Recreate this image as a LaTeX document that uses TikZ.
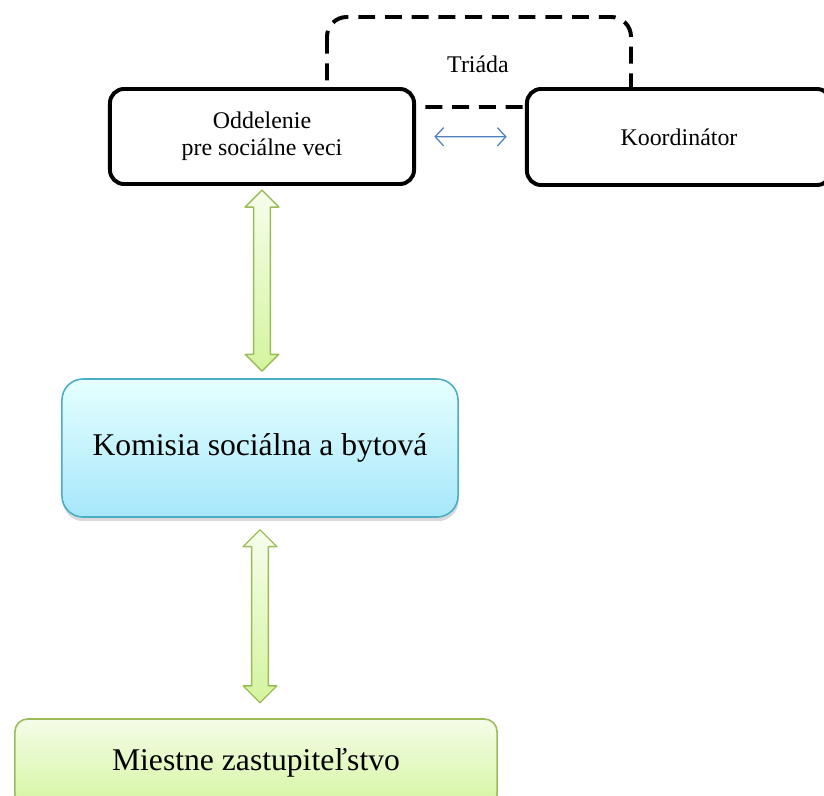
\documentclass[tikz,border=0pt]{standalone}
\usepackage{fontspec}
\setmainfont{Liberation Serif}
\usepackage{tikz}
\usetikzlibrary{arrows.meta,shadows,calc}

\definecolor{modra}{HTML}{4F81BD}
\definecolor{tyrkys}{HTML}{4BACC6}
\definecolor{olivova}{HTML}{9BBB59}

\tikzset{
	ramik/.style={draw=black,line width=2.8pt,rounded corners=10pt,fill=white,
		align=center,font=\fontsize{17}{19}\selectfont},
	komisia/.style={draw=tyrkys,line width=1.1pt,rounded corners=15pt,
		top color=cyan!10,bottom color={rgb,255:red,166;green,231;blue,250},
		drop shadow={shadow xshift=0.5pt,shadow yshift=-3pt,opacity=0.3},
		font=\fontsize{22.5}{26}\selectfont},
	zastup/.style={draw=olivova,line width=1.1pt,rounded corners=9pt,
		top color={rgb,255:red,244;green,252;blue,232},bottom color={rgb,255:red,213;green,245;blue,160},
		font=\fontsize{22.5}{26}\selectfont},
	sipka/.style={draw=olivova,line width=1pt,line join=round,
		top color={rgb,255:red,246;green,253;blue,236},bottom color={rgb,255:red,212;green,244;blue,158}}
}

% zelena obojstranna sipka: #1 horny uzol, #2 dolny uzol, #3/#4 medzery
\newcommand{\zelenasipka}[4]{%
	\path[sipka] let \p1=(#1), \p2=(#2) in
		(\x1,\y1-#3) -- (\x1+12pt,\y1-#3-12pt) -- (\x1+6pt,\y1-#3-12pt)
		-- (\x1+6pt,\y2+#4+12pt) -- (\x1+12pt,\y2+#4+12pt) -- (\x1,\y2+#4)
		-- (\x1-12pt,\y2+#4+12pt) -- (\x1-6pt,\y2+#4+12pt)
		-- (\x1-6pt,\y1-#3-12pt) -- (\x1-12pt,\y1-#3-12pt) -- cycle;
}

\begin{document}
\begin{tikzpicture}[x=0.025cm,y=-0.025cm]
	\useasboundingbox (0,0) rectangle (824,796);
	% Triada: prerusovany ramcek za oboma uzlami
	\draw[line width=2.8pt,dash pattern=on 12pt off 7pt,rounded corners=14pt]
		(327,17) rectangle (631,107);
	\node[font=\fontsize{17}{19}\selectfont] (tri) at (478,64) {Triáda};
	% horny rad
	\node[ramik,minimum width=7.6cm,minimum height=2.375cm] (odd) at (262,136.5)
		{Oddelenie\\pre sociálne veci};
	\node[ramik,minimum width=7.6cm,minimum height=2.4cm] (koo) at (679,137)
		{Koordinátor};
	\draw[{Straight Barb[length=6pt,width=13pt]}-{Straight Barb[length=6pt,width=13pt]},
		modra,line width=0.9pt,shorten <=13pt,shorten >=13pt] (odd) -- (koo);
	% komisia a zastupitelstvo
	\node[komisia,minimum width=9.9cm,minimum height=3.45cm] (kom) at (260,448)
		{Komisia sociálna a bytová};
	\node[zastup,minimum width=12.05cm,minimum height=2.2cm] (miest) at (256,763)
		{Miestne zastupiteľstvo};
	% sipky
	\zelenasipka{odd.south}{kom.north}{3pt}{5pt}
	\zelenasipka{kom.south}{miest.north}{8.5pt}{11pt}
\end{tikzpicture}
\end{document}
